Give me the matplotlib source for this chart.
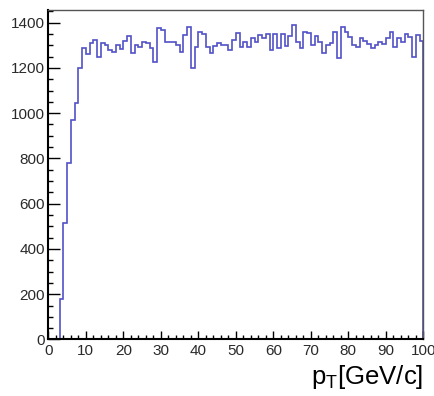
import matplotlib
matplotlib.use("Agg")

import matplotlib.pyplot as plt
import numpy as np
from matplotlib.ticker import MultipleLocator

plt.rcParams["font.family"] = ["Liberation Sans", "DejaVu Sans"]
plt.rcParams["mathtext.default"] = "regular"

# pT histogram, 100 bins of 1 GeV/c from 0 to 100
pt_edges = np.arange(0, 101)
counts = [
    0, 0, 0, 178, 513, 781, 970, 1044, 1198, 1287,
    1262, 1310, 1323, 1250, 1309, 1300, 1278, 1272, 1301, 1285,
    1320, 1342, 1268, 1300, 1292, 1314, 1310, 1290, 1228, 1375,
    1368, 1316, 1316, 1316, 1301, 1272, 1345, 1382, 1198, 1294,
    1360, 1350, 1294, 1265, 1295, 1309, 1301, 1301, 1279, 1323,
    1353, 1294, 1316, 1294, 1331, 1316, 1346, 1331, 1350, 1280,
    1350, 1290, 1350, 1295, 1340, 1390, 1316, 1287, 1360, 1353,
    1301, 1340, 1316, 1265, 1301, 1309, 1360, 1242, 1382, 1360,
    1338, 1301, 1294, 1331, 1320, 1305, 1287, 1301, 1316, 1305,
    1330, 1360, 1294, 1331, 1316, 1350, 1338, 1250, 1346, 1320,
]

fig = plt.figure(figsize=(4.35, 3.96), dpi=100)
ax = fig.add_axes([0.111, 0.1427, 0.862, 0.8333])

ax.stairs(counts, pt_edges, color="#5252c8", lw=1.2)

ax.set_xlim(0, 100)
ax.set_ylim(0, 1458)

ax.xaxis.set_major_locator(MultipleLocator(10))
ax.xaxis.set_minor_locator(MultipleLocator(2))
ax.yaxis.set_major_locator(MultipleLocator(200))
ax.yaxis.set_minor_locator(MultipleLocator(50))

ax.tick_params(axis="both", which="both", direction="in", width=1.0,
               top=False, right=False, labelsize=11, colors="black")
ax.tick_params(axis="y", which="major", length=8.5, pad=2.5)
ax.tick_params(axis="y", which="minor", length=3.6)
ax.tick_params(axis="x", which="major", length=5.8, pad=3)
ax.tick_params(axis="x", which="minor", length=2.9)
for lab in ax.get_xticklabels() + ax.get_yticklabels():
    lab.set_color("#2a2a2a")

for side in ("left", "bottom"):
    ax.spines[side].set_linewidth(1.5)
    ax.spines[side].set_color("black")
for side in ("top", "right"):
    ax.spines[side].set_linewidth(1.0)
    ax.spines[side].set_color("#555555")

fig.text(0.973, 0.012, r"p$_{T}$[GeV/c]", ha="right", va="bottom",
         fontsize=18.5, color="black")

fig.savefig("out.png", dpi=100)
